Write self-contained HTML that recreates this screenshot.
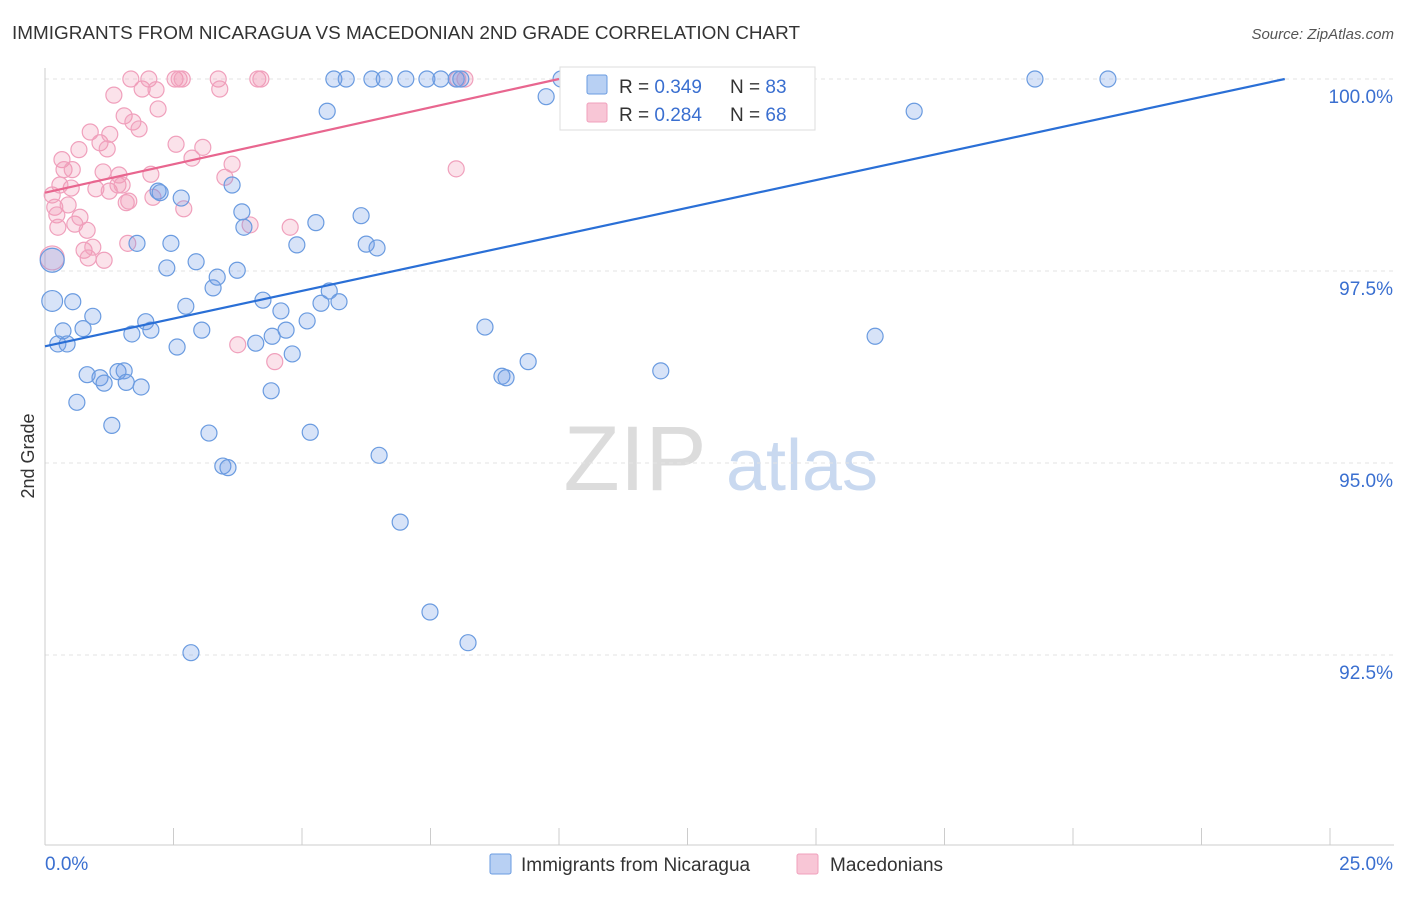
<!DOCTYPE html>
<html><head><meta charset="utf-8"><style>
body{margin:0;background:#fff;font-family:"Liberation Sans",sans-serif}
svg text{font-family:"Liberation Sans",sans-serif}
</style></head><body>
<svg id="chart" width="1406" height="892" xmlns="http://www.w3.org/2000/svg">
<text x="12" y="39" font-size="18" fill="#333" textLength="788" lengthAdjust="spacingAndGlyphs">IMMIGRANTS FROM NICARAGUA VS MACEDONIAN 2ND GRADE CORRELATION CHART</text>
<text x="1394" y="39" font-size="15" fill="#555" text-anchor="end" font-style="italic">Source: ZipAtlas.com</text>
<text x="34" y="456" font-size="18" fill="#333" text-anchor="middle" transform="rotate(-90 34 456)">2nd Grade</text>
<g><text x="635" y="490" font-size="92" fill="#dcdcdc" text-anchor="middle">ZIP</text><text x="802" y="490" font-size="72" fill="#c9d9f0" text-anchor="middle">atlas</text></g>
<g id="grid"></g><g id="axes"></g><g id="pinkpts"></g><g id="bluepts"></g><g id="lines"></g>
<g>
<rect x="560" y="67" width="255" height="63" fill="#fff" stroke="#ddd"/>
<rect x="587" y="75" width="20" height="19" fill="#b8d0f3" stroke="#6a9be0" rx="2"/>
<rect x="587" y="103" width="20" height="19" fill="#f8c6d6" stroke="#f0a0bc" rx="2"/>
<text x="619" y="93" font-size="19" fill="#333">R = <tspan fill="#3a6fd0">0.349</tspan></text>
<text x="730" y="93" font-size="19" fill="#333">N = <tspan fill="#3a6fd0">83</tspan></text>
<text x="619" y="121" font-size="19" fill="#333">R = <tspan fill="#3a6fd0">0.284</tspan></text>
<text x="730" y="121" font-size="19" fill="#333">N = <tspan fill="#3a6fd0">68</tspan></text>
</g>
<g>
<rect x="490" y="854" width="21" height="20" fill="#b8d0f3" stroke="#6a9be0" rx="2"/>
<text x="521" y="871" font-size="19" fill="#333">Immigrants from Nicaragua</text>
<rect x="797" y="854" width="21" height="20" fill="#f8c6d6" stroke="#f0a0bc" rx="2"/>
<text x="830" y="871" font-size="19" fill="#333">Macedonians</text>
</g>
</svg>
<script>
const yTicks=[100,97.5,95,92.5];
const yTickLabels=["100.0%","97.5%","95.0%","92.5%"];
const xEndLabels=["0.0%","25.0%"];
const blueX=[0.14,0.14,0.54,0.35,0.74,0.93,0.25,0.43,0.82,1.07,1.15,1.42,1.54,1.58,1.87,0.62,1.30,1.79,2.20,2.24,2.65,2.37,2.45,1.96,2.06,1.69,2.57,2.74,2.94,3.05,3.27,3.35,3.64,3.74,3.83,3.87,3.19,3.46,3.56,2.84,4.10,4.24,4.40,4.42,4.59,4.69,4.81,4.90,5.10,5.16,5.27,5.37,5.53,5.72,5.49,5.62,5.86,6.15,6.25,6.46,6.36,6.60,6.50,6.91,7.02,7.43,7.70,8.00,8.09,7.49,8.23,8.56,8.89,8.97,9.40,9.75,10.04,11.98,16.15,16.91,19.26,20.68];
const blueY=[97.64,97.11,97.10,96.72,96.75,96.91,96.55,96.55,96.15,96.11,96.04,96.19,96.20,96.05,95.99,95.79,95.49,97.86,98.54,98.52,98.45,97.54,97.86,96.84,96.73,96.68,96.51,97.04,97.62,96.73,97.28,97.42,98.62,97.51,98.27,98.07,95.39,94.96,94.94,92.53,96.56,97.12,95.94,96.65,96.98,96.73,96.42,97.84,96.85,95.40,98.13,97.08,97.24,97.10,99.58,100,100,98.22,97.85,97.80,100,100,95.10,94.23,100,100,100,100,100,93.06,92.66,96.77,96.13,96.11,96.32,99.77,100,96.20,96.65,99.58,100,100];
const blueSize=[1.5,1.3];
const pinkX=[0.14,0.14,0.19,0.23,0.33,0.37,0.45,0.51,0.58,0.66,0.68,0.82,0.76,0.88,0.84,0.93,0.99,1.07,1.13,1.21,1.15,1.26,1.25,1.34,1.42,1.44,1.50,1.54,1.58,1.63,1.61,1.67,1.71,1.83,1.89,2.02,2.06,2.10,2.16,2.20,2.53,2.61,2.67,2.55,2.70,2.86,3.07,3.37,3.40,3.50,3.64,3.75,3.99,4.14,4.20,4.47,4.77,8.00,8.03,8.17,0.29,0.25,0.53];
const pinkY=[97.67,98.49,98.33,98.23,98.95,98.82,98.36,98.58,98.11,99.08,98.20,98.03,97.77,99.31,97.67,97.81,98.57,99.17,98.79,99.09,97.64,99.28,98.54,99.79,98.62,98.75,98.62,99.52,98.39,98.41,97.86,100,99.44,99.35,99.87,100,98.76,98.46,99.86,99.61,100,100,100,99.15,98.31,98.97,99.11,100,99.87,98.72,98.89,96.54,98.10,100,100,96.32,98.07,98.83,100,100,98.62,98.07,98.82];
const pinkSize=[1.5];
const blueLine=[0,96.52,24.12,100];
const pinkLine=[0,98.52,10.0,100];
const NS="http://www.w3.org/2000/svg";
const X0=45,X1=1330,Y100=79,PXY=192/2.5;
const sx=v=>X0+(v/25)*(X1-X0);
const sy=v=>Y100+(100-v)*PXY;
function mk(tag,attrs,parent){const e=document.createElementNS(NS,tag);for(const k in attrs)e.setAttribute(k,attrs[k]);parent.appendChild(e);return e;}
const grid=document.getElementById('grid'),axes=document.getElementById('axes');
yTicks.forEach((t,i)=>{
 const l=mk('line',{x1:X0,x2:1394,y1:sy(t),y2:sy(t),stroke:'#e3e3e3','stroke-dasharray':'4,4'},grid);
 
 
 const tx=mk('text',{x:1393,y:sy(t)+24,'font-size':19,fill:'#3a6fd0','text-anchor':'end'},axes);
 tx.textContent=yTickLabels[i];
 
 
});
const ax=mk('line',{x1:X0,x2:X0,y1:68,y2:845,stroke:'#ccc'},axes);


const bx=mk('line',{x1:X0,x2:1394,y1:845,y2:845,stroke:'#ccc'},axes);


for(let i=0;i<=10;i++){
 const t=mk('line',{x1:sx(i*2.5),x2:sx(i*2.5),y1:828,y2:845,stroke:'#ccc'},axes);
 
 
}
const xl0=mk('text',{x:45,y:870,'font-size':19,fill:'#3a6fd0'},axes);xl0.textContent=xEndLabels[0];


const xl1=mk('text',{x:1393,y:870,'font-size':19,fill:'#3a6fd0','text-anchor':'end'},axes);xl1.textContent=xEndLabels[1];


function pts(xs,ys,sizes,g,fill,stroke,name){
 xs.forEach((x,i)=>{
  const r=8*(sizes[i]||1);
  const c=mk('circle',{cx:sx(x),cy:sy(ys[i]),r:r,fill:fill,stroke:stroke,'stroke-width':1.2},g);
  
  
 });
}
pts(pinkX,pinkY,pinkSize,document.getElementById('pinkpts'),'rgba(240,150,180,0.28)','#f0a0bc','macedonians-point');
pts(blueX,blueY,blueSize,document.getElementById('bluepts'),'rgba(110,155,230,0.28)','#6a9be0','nicaragua-point');
const lg=document.getElementById('lines');
const bl=mk('line',{x1:sx(blueLine[0]),y1:sy(blueLine[1]),x2:sx(blueLine[2]),y2:sy(blueLine[3]),stroke:'#2a6fd6','stroke-width':2.2},lg);


const pl=mk('line',{x1:sx(pinkLine[0]),y1:sy(pinkLine[1]),x2:sx(pinkLine[2]),y2:sy(pinkLine[3]),stroke:'#e8668f','stroke-width':2.2},lg);


</script>
</body></html>
